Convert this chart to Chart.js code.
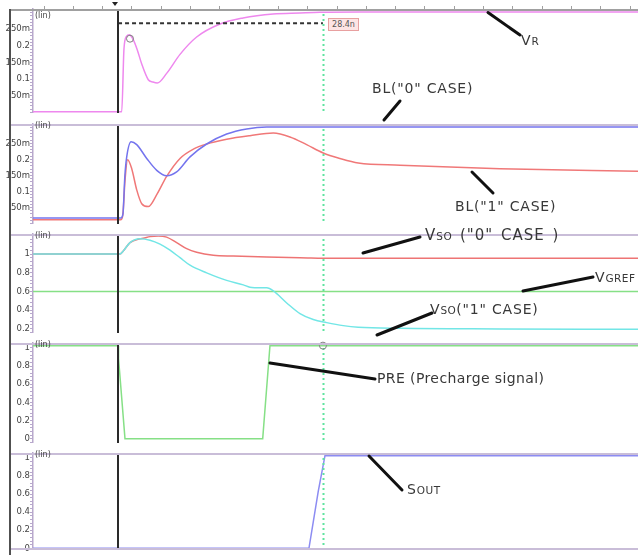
<!DOCTYPE html>
<html>
<head>
<meta charset="utf-8">
<script src="https://cdn.jsdelivr.net/npm/chart.js@4.4.0/dist/chart.umd.min.js"></script>
<style>
  body { margin: 0; background: #fff; }
  #wrap { position: relative; width: 638px; height: 557px; overflow: hidden; font-family: "DejaVu Sans", sans-serif; }
  canvas { position: absolute; left: 0; }
  svg { position: absolute; left: 0; top: 0; }
  .lbl { position: absolute; color: #383838; font-size: 14px; line-height: 14px; white-space: nowrap; letter-spacing: 0.8px; }
  .lbl span { font-size: 10.5px; letter-spacing: 0.5px; }
  .lin { position: absolute; left: 35px; font-size: 8px; color: #444; }
  #cur { position: absolute; left: 328px; top: 18px; width: 29px; height: 11px; background: #fde4e4; border: 1px solid #e8a0a0;
         font-size: 8px; line-height: 11px; color: #555; text-align: center; }
</style>
</head>
<body>
<div id="wrap">
  <canvas id="p1" width="638" height="118" style="top:0px"></canvas>
  <canvas id="p2" width="638" height="110" style="top:119px"></canvas>
  <canvas id="p3" width="638" height="109" style="top:229px"></canvas>
  <canvas id="p4" width="638" height="110" style="top:338px"></canvas>
  <canvas id="p5" width="638" height="107" style="top:448px"></canvas>

  <svg width="638" height="557">
    <line x1="10" y1="9" x2="10" y2="555" stroke="#505050" stroke-width="2"/>
    <polygon points="112,2 118,2 115,6" fill="#222"/>
    <g stroke="#111" stroke-width="3" stroke-linecap="round">
      <line x1="488" y1="12.5" x2="520" y2="35"/>
      <line x1="400" y1="101" x2="384" y2="120"/>
      <line x1="472" y1="172" x2="493" y2="193"/>
      <line x1="363" y1="253" x2="420" y2="237"/>
      <line x1="523" y1="291" x2="593" y2="277"/>
      <line x1="377" y1="335" x2="432" y2="313"/>
      <line x1="270" y1="363" x2="375" y2="379"/>
      <line x1="369" y1="456" x2="402" y2="490"/>
    </g>
  </svg>

  <div class="lin" style="top:11px">(lin)</div>
  <div class="lin" style="top:121px">(lin)</div>
  <div class="lin" style="top:231px">(lin)</div>
  <div class="lin" style="top:340px">(lin)</div>
  <div class="lin" style="top:450px">(lin)</div>
  <div id="cur">28.4n</div>

  <div class="lbl" style="left:521px;top:33px">V<span>R</span></div>
  <div class="lbl" style="left:372px;top:81px">BL("0" CASE)</div>
  <div class="lbl" style="left:455px;top:199px">BL("1" CASE)</div>
  <div class="lbl" style="left:425px;top:228px;font-size:15px;letter-spacing:1px;word-spacing:2px">V<span>SO</span> ("0" CASE )</div>
  <div class="lbl" style="left:595px;top:270px">V<span>GREF</span></div>
  <div class="lbl" style="left:430px;top:302px">V<span>SO</span>("1" CASE)</div>
  <div class="lbl" style="left:377px;top:371px;letter-spacing:0.4px">PRE (Precharge signal)</div>
  <div class="lbl" style="left:407px;top:482px">S<span>OUT</span></div>
</div>

<script>
// time axis (ns)
const tMax = 59.26;
const clockT = 8.33;   // solid black cursor
const cursorT = 28.4;  // green measurement cursor
const topTicks = [1.03, 3.9, 6.77, 9.64, 12.51, 15.38, 18.25, 21.12, 23.99, 26.86, 29.73,
                  32.6, 35.47, 38.34, 41.21, 44.08, 46.95, 49.82, 52.69, 55.56, 58.43];

// V_R
const vrT = [0, 8.69, 8.91, 9.16, 9.43, 9.82, 10.24, 10.65, 11.29, 11.75, 12.17, 13.09, 14.4, 16.03, 18.32, 20.57, 23.51, 26.15, 28.11, 32.03, 59.26];
const vrV = [0.002, 0.002, 0.19, 0.228, 0.233, 0.218, 0.185, 0.145, 0.098, 0.091, 0.088, 0.117, 0.174, 0.226, 0.265, 0.283, 0.295, 0.298, 0.3, 0.301, 0.301];

// BL, "0" case (blue) and "1" case (red)
const bl0T = [0, 8.62, 8.81, 9.0, 9.18, 9.6, 10.16, 11.14, 12.12, 13.09, 14.07, 15.38, 17.01, 18.97, 20.93, 22.89, 59.26];
const bl0V = [0.017, 0.017, 0.03, 0.15, 0.208, 0.255, 0.246, 0.203, 0.166, 0.149, 0.161, 0.208, 0.248, 0.279, 0.295, 0.301, 0.301];
const bl1T = [0, 8.62, 8.81, 9.01, 9.27, 9.67, 10.16, 10.65, 11.29, 12.12, 13.09, 14.4, 15.71, 17.01, 18.97, 21.25, 23.54, 25.17, 26.8, 28.43, 30.07, 31.86, 35.95, 45.74, 59.26];
const bl1V = [0.012, 0.012, 0.03, 0.133, 0.199, 0.171, 0.105, 0.062, 0.053, 0.09, 0.147, 0.203, 0.232, 0.248, 0.263, 0.274, 0.282, 0.27, 0.246, 0.22, 0.203, 0.189, 0.182, 0.171, 0.163];

// V_SO, "1" case (cyan) and "0" case (red), V_GREF (green)
const vso1T = [0, 8.52, 8.84, 9.5, 10.48, 11.46, 12.44, 13.42, 14.4, 15.38, 17.01, 18.97, 20.6, 21.25, 21.74, 22.89, 23.54, 24.85, 26.15, 27.45, 28.77, 30.39, 31.86, 35.95, 45.74, 59.26];
const vso1V = [1.0, 1.0, 1.032, 1.123, 1.165, 1.149, 1.107, 1.042, 0.961, 0.881, 0.799, 0.718, 0.67, 0.644, 0.64, 0.638, 0.605, 0.476, 0.362, 0.298, 0.265, 0.233, 0.216, 0.204, 0.198, 0.194];
const vso0T = [0, 8.52, 8.84, 9.5, 10.48, 10.8, 11.46, 12.27, 13.09, 14.07, 15.05, 16.03, 17.66, 19.62, 22.89, 26.15, 29.42, 59.26];
const vso0V = [1.0, 1.0, 1.032, 1.123, 1.165, 1.17, 1.187, 1.194, 1.182, 1.123, 1.058, 1.019, 0.987, 0.978, 0.968, 0.961, 0.954, 0.954];
const vgrefT = [0, 59.26];
const vgrefV = [0.6, 0.6];

// PRE and S_OUT
const preT = [0, 8.33, 8.38, 9.01, 22.5, 23.21, 59.26];
const preV = [1.025, 1.025, 0.88, 0, 0, 1.025, 1.025];
const soutT = [0, 27.03, 27.94, 28.6, 59.26];
const soutV = [0, 0, 0.63, 1.025, 1.025];

// y tick labels
const milliTicks = [0.05, 0.1, 0.15, 0.2, 0.25];
const milliLabels = ['50m', '0.1', '150m', '0.2', '250m'];
const vsoTicks = [0.2, 0.4, 0.6, 0.8, 1];
const vsoLabels = ['0.2', '0.4', '0.6', '0.8', '1'];
const digTicks = [0, 0.2, 0.4, 0.6, 0.8, 1];
const digLabels = ['0', '0.2', '0.4', '0.6', '0.8', '1'];

const pts = (t, v) => t.map((x, i) => ({ x: x, y: v[i] }));

const panels = [
  { id: 'p1', min: -0.0014, max: 0.31, padTop: 9, ticks: milliTicks, labels: milliLabels, minor: 0.01, top: true,
    level: 0.267, circle: { t: 9.5, v: 0.221 },
    sets: [{ data: pts(vrT, vrV), color: '#ee88ee', smooth: true }] },
  { id: 'p2', min: -0.001, max: 0.31, padTop: 0, ticks: milliTicks, labels: milliLabels, minor: 0.01,
    sets: [{ data: pts(bl0T, bl0V), color: '#7474ee', smooth: true },
           { data: pts(bl1T, bl1V), color: '#f07878', smooth: true }] },
  { id: 'p3', min: 0.155, max: 1.214, padTop: 0, ticks: vsoTicks, labels: vsoLabels, minor: 0.04,
    sets: [{ data: pts(vso1T, vso1V), color: '#72e6e6', smooth: true },
           { data: pts(vso0T, vso0V), color: '#ee7474', smooth: true },
           { data: pts(vgrefT, vgrefV), color: '#86e086', smooth: false }] },
  { id: 'p4', min: -0.047, max: 1.053, padTop: 0, ticks: digTicks, labels: digLabels, minor: 0.04,
    circle: { t: cursorT, v: 1.025 },
    sets: [{ data: pts(preT, preV), color: '#86e086', smooth: false }] },
  { id: 'p5', min: -0.017, max: 1.053, padTop: 0, ticks: digTicks, labels: digLabels, minor: 0.04, bottom: true,
    sets: [{ data: pts(soutT, soutV), color: '#8c8cf2', smooth: false }] }
];

const overlay = {
  id: 'overlay',
  afterDatasetsDraw(chart, args, opts) {
    const p = opts.panel;
    const { ctx, chartArea: a } = chart;
    const x = chart.scales.x, y = chart.scales.y;
    ctx.save();

    // dashed level from the clock cursor to the measurement cursor
    if (p.level !== undefined) {
      ctx.strokeStyle = '#333';
      ctx.lineWidth = 2;
      ctx.setLineDash([4, 3]);
      const ly = y.getPixelForValue(p.level);
      ctx.beginPath();
      ctx.moveTo(x.getPixelForValue(clockT), ly);
      ctx.lineTo(x.getPixelForValue(cursorT), ly);
      ctx.stroke();
      ctx.setLineDash([]);
    }

    // measurement cursor
    const gx = Math.round(x.getPixelForValue(cursorT)) + 0.5;
    ctx.strokeStyle = '#5fe39f';
    ctx.lineWidth = 2;
    ctx.setLineDash([2, 3]);
    ctx.beginPath();
    ctx.moveTo(gx, a.top);
    ctx.lineTo(gx, a.bottom);
    ctx.stroke();
    ctx.setLineDash([]);

    // clock cursor
    const bx = Math.round(x.getPixelForValue(clockT));
    ctx.strokeStyle = '#2a2a2a';
    ctx.lineWidth = 2;
    ctx.beginPath();
    ctx.moveTo(bx, a.top);
    ctx.lineTo(bx, a.bottom);
    ctx.stroke();

    if (p.circle) {
      ctx.strokeStyle = '#808080';
      ctx.lineWidth = 1;
      ctx.beginPath();
      ctx.arc(x.getPixelForValue(p.circle.t), y.getPixelForValue(p.circle.v), 3.5, 0, Math.PI * 2);
      ctx.stroke();
    }

    // panel frame
    ctx.lineWidth = 2;
    ctx.strokeStyle = p.top ? '#a0a0a0' : '#c9bdd8';
    ctx.beginPath();
    ctx.moveTo(10, a.top + 1);
    ctx.lineTo(chart.width, a.top + 1);
    ctx.stroke();
    if (p.top) {
      ctx.lineWidth = 1;
      topTicks.forEach(t => {
        const tx = Math.round(x.getPixelForValue(t)) + 0.5;
        ctx.beginPath();
        ctx.moveTo(tx, a.top - 3);
        ctx.lineTo(tx, a.top);
        ctx.stroke();
      });
    }
    if (p.bottom) {
      ctx.strokeStyle = '#c9bdd8';
      ctx.beginPath();
      ctx.moveTo(10, a.bottom - 1);
      ctx.lineTo(chart.width, a.bottom - 1);
      ctx.stroke();
    }
    ctx.restore();
  }
};

panels.forEach(p => {
  const all = [];
  for (let v = Math.ceil(p.min / p.minor) * p.minor; v <= p.max; v += p.minor) {
    all.push(Math.round(v * 1000) / 1000);
  }
  new Chart(document.getElementById(p.id), {
    type: 'line',
    data: {
      datasets: p.sets.map(s => ({
        data: s.data,
        borderColor: s.color,
        borderWidth: 1.5,
        pointRadius: 0,
        fill: false,
        cubicInterpolationMode: s.smooth ? 'monotone' : 'default',
        tension: 0
      }))
    },
    options: {
      responsive: false,
      animation: false,
      devicePixelRatio: 1,
      layout: { autoPadding: false, padding: { top: p.padTop, left: 0, right: 0, bottom: 0 } },
      plugins: { legend: { display: false }, tooltip: { enabled: false }, overlay: { panel: p } },
      scales: {
        x: { type: 'linear', min: 0, max: tMax, display: false },
        y: {
          min: p.min,
          max: p.max,
          afterFit: s => { s.width = 33; },
          afterBuildTicks: s => { s.ticks = all.map(v => ({ value: v })); },
          grid: { drawOnChartArea: false, drawTicks: true, tickLength: 3, color: '#b8a8cc', lineWidth: 1 },
          border: { display: true, color: '#b8a8cc', width: 1.5 },
          ticks: {
            autoSkip: false,
            padding: 0,
            color: '#444',
            font: { family: 'DejaVu Sans', size: 8.5 },
            callback: v => {
              const i = p.ticks.findIndex(t => Math.abs(t - v) < 1e-6);
              return i < 0 ? '' : p.labels[i];
            }
          }
        }
      }
    },
    plugins: [overlay]
  });
});
</script>
</body>
</html>
